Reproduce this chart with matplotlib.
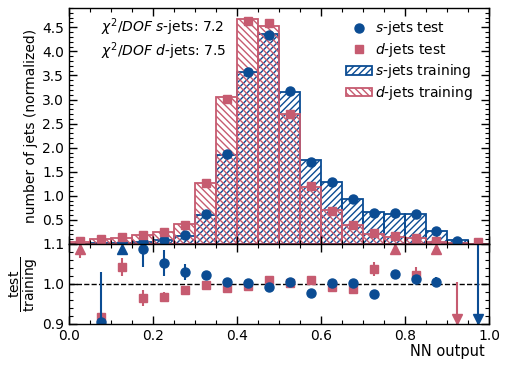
import numpy as np
import matplotlib
matplotlib.use("Agg")
import matplotlib.pyplot as plt
from matplotlib.ticker import MultipleLocator
from matplotlib.patches import Patch
from matplotlib.lines import Line2D

# ---- data ----
bin_edges = np.linspace(0.0, 1.0, 21)

s_train = [0.01, 0.015, 0.02, 0.04, 0.08, 0.17, 0.60, 1.85, 3.57, 4.36,
           3.16, 1.75, 1.28, 0.94, 0.67, 0.63, 0.62, 0.27, 0.09, 0.01]
d_train = [0.05, 0.10, 0.13, 0.19, 0.25, 0.41, 1.26, 3.05, 4.67, 4.53,
           2.69, 1.19, 0.70, 0.40, 0.21, 0.15, 0.12, 0.05, 0.02, 0.0]

s_test = [np.nan, 0.01, 0.02, 0.04, 0.08, 0.18, 0.62, 1.86, 3.57, 4.33,
          3.18, 1.71, 1.28, 0.93, 0.645, 0.645, 0.63, 0.27, 0.07, np.nan]
d_test = [0.06, 0.10, 0.14, 0.19, 0.24, 0.40, 1.26, 3.02, 4.64, 4.58,
          2.69, 1.20, 0.69, 0.40, 0.22, 0.175, 0.13, 0.07, np.nan, 0.05]

s_ratio = [np.nan, 0.906, 1.15, 1.087, 1.053, 1.03, 1.023, 1.006, 1.002, 0.993,
           1.006, 0.978, 1.002, 1.002, 0.975, 1.025, 1.012, 1.006, np.nan, 0.0]
s_ratio_err = [0.0, 0.125, 0.0, 0.045, 0.032, 0.02, 0.008, 0.005, 0.004, 0.004,
               0.004, 0.005, 0.006, 0.008, 0.008, 0.008, 0.008, 0.012, 0.0, 1.2]
d_ratio = [1.13, 0.917, 1.043, 0.966, 0.968, 0.986, 0.997, 0.991, 0.995, 1.01,
           1.002, 1.01, 0.993, 0.987, 1.037, 1.15, 1.022, 1.25, 0.0, np.nan]
d_ratio_err = [0.066, 0.012, 0.023, 0.02, 0.013, 0.01, 0.005, 0.004, 0.003, 0.003,
               0.004, 0.006, 0.008, 0.012, 0.017, 0.06, 0.02, 0.1, 1.006, 0.0]

chi2_s = 7.2
chi2_d = 7.5

blue = '#0b4c93'
red = '#c65b70'

centers = 0.5 * (bin_edges[:-1] + bin_edges[1:])
width = bin_edges[1] - bin_edges[0]

plt.rcParams['font.family'] = ['DejaVu Sans']
plt.rcParams['hatch.linewidth'] = 1.0
plt.rcParams['mathtext.fontset'] = 'dejavusans'

fig = plt.figure(figsize=(5.09, 3.66), dpi=100)
ax = fig.add_axes([0.1356, 0.3333, 0.8251, 0.6448])
rax = fig.add_axes([0.1356, 0.1148, 0.8251, 0.2186], sharex=ax)

fs = 10
hb = '/////'
hr = '\\\\\\\\\\'

# training histograms
ax.bar(centers, s_train, width=width, fill=False, hatch=hb,
       edgecolor=blue, linewidth=1.3)
ax.bar(centers, d_train, width=width, fill=False, hatch=hr,
       edgecolor=red, linewidth=1.3)

# test points
ax.plot(centers, s_test, 'o', color=blue, ms=6.5, zorder=5)
ax.plot(centers, d_test, 's', color=red, ms=6, zorder=5)

ax.set_xlim(0, 1)
ax.set_ylim(0, 4.9)
ax.set_yticks(np.arange(0.5, 4.51, 0.5))
ax.yaxis.set_minor_locator(MultipleLocator(0.1))
ax.set_ylabel('number of jets (normalized)', fontsize=10)
ax.tick_params(labelbottom=False)

ax.text(0.075, 0.92, r'$\chi^2/DOF$ $s$-jets: ' + f'{chi2_s}', transform=ax.transAxes,
        fontsize=fs, va='center')
ax.text(0.075, 0.815, r'$\chi^2/DOF$ $d$-jets: ' + f'{chi2_d}', transform=ax.transAxes,
        fontsize=fs, va='center')

handles = [
    Line2D([], [], marker='o', ls='none', color=blue, ms=6.5),
    Line2D([], [], marker='s', ls='none', color=red, ms=6),
    Patch(fill=False, hatch=hb, edgecolor=blue, linewidth=1.3),
    Patch(fill=False, hatch=hr, edgecolor=red, linewidth=1.3),
]
labels = [r'$s$-jets test', r'$d$-jets test', r'$s$-jets training', r'$d$-jets training']
ax.legend(handles, labels, loc='upper right', frameon=False, fontsize=fs,
          handlelength=1.9, handleheight=0.6, handletextpad=0.2, labelspacing=0.25,
          borderaxespad=0.0, bbox_to_anchor=(0.975, 0.975))

# ratio panel
lo, hi = 0.9, 1.1
def draw_ratio(vals, errs, color, marker, ms):
    for x, v, e in zip(centers, vals, errs):
        if np.isnan(v):
            continue
        if e > 0:
            rax.vlines(x, v - e, v + e, color=color, lw=1.5)
        if v > hi:
            rax.plot(x, 1.087, '^', color=color, ms=6.5, clip_on=False)
        elif v < lo:
            rax.plot(x, 0.912, 'v', color=color, ms=6.5, clip_on=False)
        else:
            rax.plot(x, v, marker, color=color, ms=ms)

rax.axhline(1.0, color='black', ls='--', lw=1.0)
draw_ratio(d_ratio, d_ratio_err, red, 's', 6)
draw_ratio(s_ratio, s_ratio_err, blue, 'o', 6.5)

rax.set_ylim(lo, hi)
rax.set_yticks([0.9, 1.0, 1.1])
rax.yaxis.set_minor_locator(MultipleLocator(0.02))
rax.set_xticks(np.arange(0, 1.01, 0.2))
rax.xaxis.set_minor_locator(MultipleLocator(0.05))
rax.set_xlabel('NN output', loc='right', fontsize=10.5)
rax.set_ylabel(r'$\dfrac{\mathrm{test}}{\mathrm{training}}$', fontsize=10)

for a in (ax, rax):
    a.tick_params(which='both', direction='in', top=True, right=True, labelsize=fs)
    a.tick_params(which='major', length=6, width=1.0)
    a.tick_params(which='minor', length=3, width=0.8)
    for sp in a.spines.values():
        sp.set_linewidth(1.0)

ax.yaxis.set_label_coords(-0.074, 0.5)
rax.yaxis.set_label_coords(-0.07, 0.5)
rax.xaxis.set_label_coords(0.99, -0.25)

fig.savefig('out.png', dpi=100)
